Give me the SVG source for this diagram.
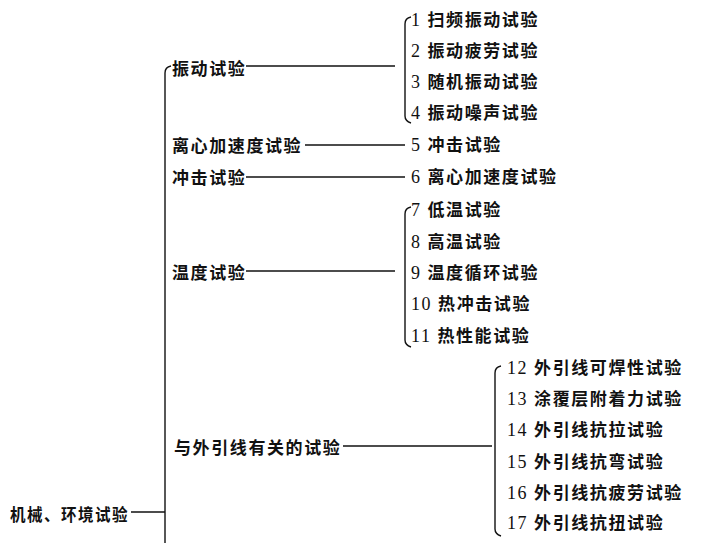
<svg xmlns="http://www.w3.org/2000/svg" width="715" height="543" viewBox="0 0 715 543">
<style>
text{font-family:"Liberation Serif","Noto Sans CJK SC",serif;font-size:17px;letter-spacing:1.6px;fill:#111;font-weight:bold}
.d{font-weight:normal;font-size:18px}
.ln{stroke:#111;stroke-width:1.4;fill:none}
</style>
<rect width="715" height="543" fill="#fff"/>
<g id="connectors">
<path class="ln" d="M131,512 H165"/>
<path class="ln" d="M171,66 Q165,67 165,73 V543"/>
<path class="ln" d="M246,66 H395"/>
<path class="ln" d="M305,145 H405"/>
<path class="ln" d="M246,177 H405"/>
<path class="ln" d="M246,271 H395"/>
<path class="ln" d="M343,446 H492"/>
<path class="ln" d="M411,17 Q405,18 405,24 V116 Q405,121 411,123"/>
<path class="ln" d="M411,207 Q405,208 405,214 V340 Q405,345 411,347"/>
<path class="ln" d="M501,366 Q495,367 495,373 V529 Q495,534 501,536"/>
</g>
<g id="root"><text x="10" y="521" textLength="119" lengthAdjust="spacingAndGlyphs">机械、环境试验</text></g>
<g id="n-vib"><text x="172" y="75">振动试验</text></g>
<g id="n-cent"><text x="172" y="152">离心加速度试验</text></g>
<g id="n-shock"><text x="172" y="184">冲击试验</text></g>
<g id="n-temp"><text x="172" y="279">温度试验</text></g>
<g id="n-lead"><text x="174" y="454">与外引线有关的试验</text></g>
<g id="i1"><text x="411" y="26"><tspan class="d">1</tspan> 扫频振动试验</text></g>
<g id="i2"><text x="411" y="57"><tspan class="d">2</tspan> 振动疲劳试验</text></g>
<g id="i3"><text x="411" y="88"><tspan class="d">3</tspan> 随机振动试验</text></g>
<g id="i4"><text x="411" y="119"><tspan class="d">4</tspan> 振动噪声试验</text></g>
<g id="i5"><text x="411" y="151"><tspan class="d">5</tspan> 冲击试验</text></g>
<g id="i6"><text x="411" y="183"><tspan class="d">6</tspan> 离心加速度试验</text></g>
<g id="i7"><text x="411" y="216"><tspan class="d">7</tspan> 低温试验</text></g>
<g id="i8"><text x="411" y="248"><tspan class="d">8</tspan> 高温试验</text></g>
<g id="i9"><text x="411" y="279"><tspan class="d">9</tspan> 温度循环试验</text></g>
<g id="i10"><text x="411" y="310"><tspan class="d">10</tspan> 热冲击试验</text></g>
<g id="i11"><text x="411" y="342"><tspan class="d">11</tspan> 热性能试验</text></g>
<g id="i12"><text x="507" y="374"><tspan class="d">12</tspan> 外引线可焊性试验</text></g>
<g id="i13"><text x="507" y="405"><tspan class="d">13</tspan> 涂覆层附着力试验</text></g>
<g id="i14"><text x="507" y="436"><tspan class="d">14</tspan> 外引线抗拉试验</text></g>
<g id="i15"><text x="507" y="468"><tspan class="d">15</tspan> 外引线抗弯试验</text></g>
<g id="i16"><text x="507" y="499"><tspan class="d">16</tspan> 外引线抗疲劳试验</text></g>
<g id="i17"><text x="507" y="529"><tspan class="d">17</tspan> 外引线抗扭试验</text></g>
</svg>
